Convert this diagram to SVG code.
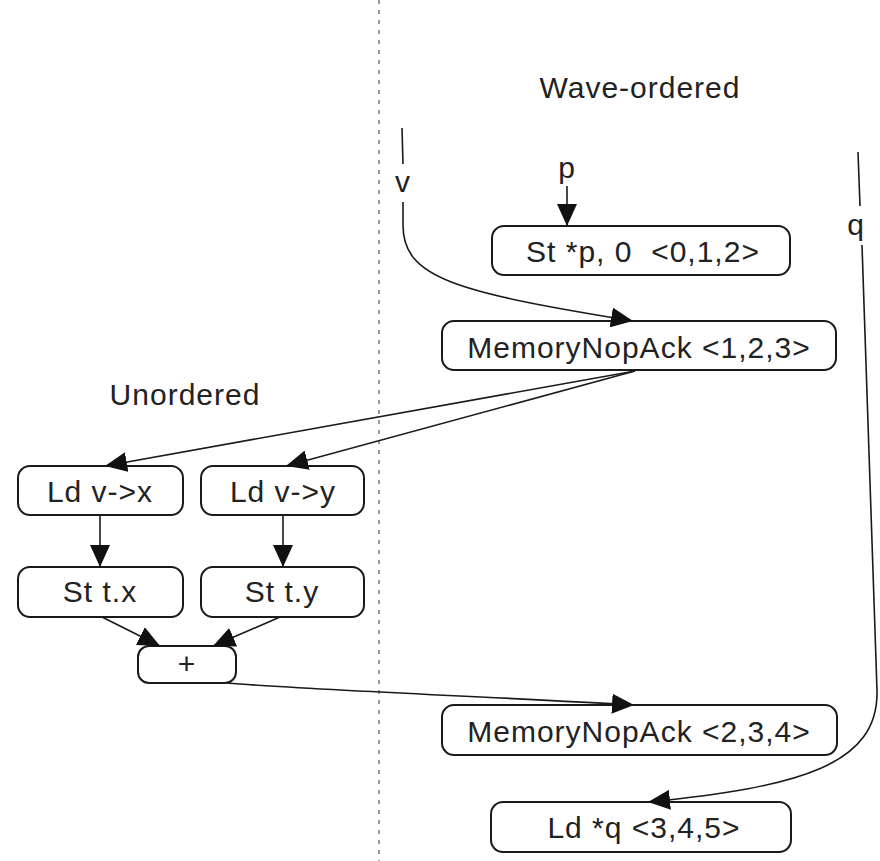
<svg xmlns="http://www.w3.org/2000/svg" width="880" height="861" viewBox="0 0 880 861">
  <style>
    .box { fill: #ffffff; stroke: #1a1a1a; stroke-width: 2; }
    .lbl { font-family: "Liberation Sans", Arial, sans-serif; font-size: 30px; letter-spacing: 1px; fill: #222222; text-anchor: middle; }
    .edge { fill: none; stroke: #1a1a1a; stroke-width: 1.6; }
    .arr { marker-end: url(#head); }
    .divider { stroke: #808080; stroke-width: 1.6; stroke-dasharray: 4 6; }
  </style>
  <defs>
    <marker id="head" markerUnits="userSpaceOnUse" markerWidth="24" markerHeight="20" refX="22" refY="10" orient="auto">
      <path d="M0,0 L22,10 L0,20 Z" fill="#111111"/>
    </marker>
  </defs>

  <rect width="880" height="861" fill="#ffffff"/>

  <!-- divider between the two memory-ordering regions -->
  <line class="divider" x1="379" y1="0" x2="379" y2="861"/>

  <!-- region titles -->
  <text class="lbl" x="640" y="98">Wave-ordered</text>
  <text class="lbl" x="185" y="405">Unordered</text>

  <!-- inputs -->
  <text class="lbl" x="403" y="192">v</text>
  <text class="lbl" x="567" y="178">p</text>
  <text class="lbl" x="856" y="235">q</text>

  <!-- nodes -->
  <g id="st-p">
    <rect class="box" x="492" y="226" width="298" height="49" rx="12"/>
    <text class="lbl" x="643" y="262" xml:space="preserve">St *p, 0  &lt;0,1,2&gt;</text>
  </g>
  <g id="nop-123">
    <rect class="box" x="442" y="321" width="394" height="49" rx="12"/>
    <text class="lbl" x="639" y="358">MemoryNopAck &lt;1,2,3&gt;</text>
  </g>
  <g id="ld-vx">
    <rect class="box" x="18" y="466" width="165" height="49" rx="12"/>
    <text class="lbl" x="100" y="502">Ld v-&gt;x</text>
  </g>
  <g id="ld-vy">
    <rect class="box" x="201" y="466" width="163" height="49" rx="12"/>
    <text class="lbl" x="283" y="502">Ld v-&gt;y</text>
  </g>
  <g id="st-tx">
    <rect class="box" x="18" y="567" width="165" height="50" rx="12"/>
    <text class="lbl" x="100" y="602">St t.x</text>
  </g>
  <g id="st-ty">
    <rect class="box" x="201" y="567" width="163" height="50" rx="12"/>
    <text class="lbl" x="282" y="602">St t.y</text>
  </g>
  <g id="add">
    <rect class="box" x="138" y="646" width="98" height="37" rx="11"/>
    <text class="lbl" x="187" y="674">+</text>
  </g>
  <g id="nop-234">
    <rect class="box" x="442" y="705" width="395" height="50" rx="12"/>
    <text class="lbl" x="639" y="742">MemoryNopAck &lt;2,3,4&gt;</text>
  </g>
  <g id="ld-q">
    <rect class="box" x="491" y="802" width="300" height="50" rx="12"/>
    <text class="lbl" x="644" y="838">Ld *q &lt;3,4,5&gt;</text>
  </g>

  <!-- connectors -->
  <g id="edges">
    <line class="edge" x1="402" y1="128" x2="403" y2="164"/>
    <path class="edge arr" d="M403,202 L403,225 C403,278 455,292 633,321"/>
    <line class="edge arr" x1="567" y1="186" x2="567" y2="226"/>
    <line class="edge" x1="858" y1="152" x2="860" y2="206"/>
    <path class="edge arr" d="M862,245 L877,690 C879,765 800,787 648,802"/>
    <line class="edge arr" x1="635" y1="371" x2="105" y2="466"/>
    <line class="edge arr" x1="635" y1="371" x2="286" y2="466"/>
    <line class="edge arr" x1="100" y1="515" x2="100" y2="567"/>
    <line class="edge arr" x1="283" y1="515" x2="283" y2="567"/>
    <line class="edge arr" x1="102" y1="617" x2="160" y2="646"/>
    <line class="edge arr" x1="280" y1="617" x2="213" y2="646"/>
    <path class="edge arr" d="M227,683 C310,690 500,697 634,705"/>
  </g>
</svg>
